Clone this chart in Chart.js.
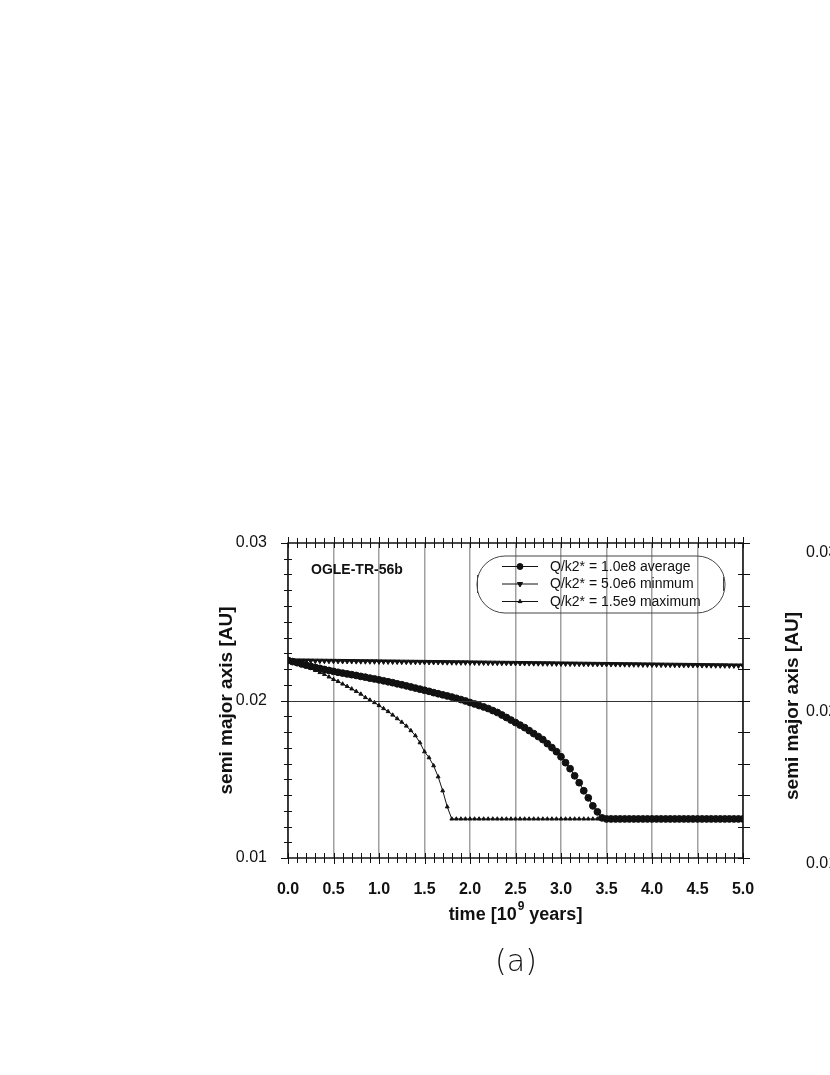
<!DOCTYPE html>
<html>
<head>
<meta charset="utf-8">
<title>OGLE-TR-56b semi major axis</title>
<script src="https://cdn.jsdelivr.net/npm/chart.js@4/dist/chart.umd.min.js"></script>
<style>
html, body { margin: 0; padding: 0; background: #fff; overflow: hidden; }
#wrap { position: relative; width: 830px; height: 1075px; }
#wrap canvas { position: absolute; left: 0; top: 0; }
.caption { position: absolute; left: 516px; top: 960px; transform: translate(-50%, -50%);
  font-family: 'DejaVu Sans', sans-serif; font-weight: 200; font-size: 30px; color: #111; }
.ghost { position: absolute; font-family: 'Liberation Sans', Arial, sans-serif; font-size: 16px; color: #111; white-space: nowrap; }
.ghost-title { position: absolute; left: 792px; top: 706px; transform: translate(-50%, -50%) rotate(-90deg);
  font-family: 'Liberation Sans', Arial, sans-serif; font-weight: bold; font-size: 19px; color: #111; white-space: nowrap; }
</style>
</head>
<body>
<div id="wrap">
    <canvas id="orbitChart"></canvas>
    <div class="caption">(a)</div>
    <!-- borde del siguiente panel, cortado -->
    <div class="ghost" style="left:806px; top:543px;">0.03</div>
    <div class="ghost" style="left:806px; top:702px;">0.02</div>
    <div class="ghost" style="left:806px; top:854px;">0.01</div>
    <div class="ghost-title">semi major axis [AU]</div>
</div>
<script>
// Tiempo en 10^9 años
const timeGyr = [
    0.00, 0.05, 0.10, 0.15, 0.20, 0.25, 0.30, 0.35, 0.40, 0.45,
    0.50, 0.55, 0.60, 0.65, 0.70, 0.75, 0.80, 0.85, 0.90, 0.95,
    1.00, 1.05, 1.10, 1.15, 1.20, 1.25, 1.30, 1.35, 1.40, 1.45,
    1.50, 1.55, 1.60, 1.65, 1.70, 1.75, 1.80, 1.85, 1.90, 1.95,
    2.00, 2.05, 2.10, 2.15, 2.20, 2.25, 2.30, 2.35, 2.40, 2.45,
    2.50, 2.55, 2.60, 2.65, 2.70, 2.75, 2.80, 2.85, 2.90, 2.95,
    3.00, 3.05, 3.10, 3.15, 3.20, 3.25, 3.30, 3.35, 3.40, 3.45,
    3.50, 3.55, 3.60, 3.65, 3.70, 3.75, 3.80, 3.85, 3.90, 3.95,
    4.00, 4.05, 4.10, 4.15, 4.20, 4.25, 4.30, 4.35, 4.40, 4.45,
    4.50, 4.55, 4.60, 4.65, 4.70, 4.75, 4.80, 4.85, 4.90, 4.95,
    5.00
];

// Q/k2* = 1.0e8 (average) - círculos
const axisAverage = [
    0.02255, 0.02247, 0.02240, 0.02232, 0.02224, 0.02217, 0.02210, 0.02204, 0.02197, 0.02191,
    0.02185, 0.02179, 0.02174, 0.02169, 0.02164, 0.02159, 0.02153, 0.02148, 0.02142, 0.02137,
    0.02131, 0.02125, 0.02119, 0.02113, 0.02106, 0.02100, 0.02093, 0.02086, 0.02079, 0.02072,
    0.02065, 0.02058, 0.02050, 0.02043, 0.02036, 0.02029, 0.02022, 0.02014, 0.02006, 0.01997,
    0.01987, 0.01978, 0.01968, 0.01959, 0.01949, 0.01936, 0.01924, 0.01908, 0.01892, 0.01876,
    0.01860, 0.01844, 0.01828, 0.01809, 0.01790, 0.01771, 0.01752, 0.01726, 0.01701, 0.01675,
    0.01643, 0.01605, 0.01567, 0.01522, 0.01478, 0.01427, 0.01382, 0.01331, 0.01293, 0.01255,
    0.01248, 0.01248, 0.01248, 0.01248, 0.01248, 0.01248, 0.01248, 0.01248, 0.01248, 0.01248,
    0.01248, 0.01248, 0.01248, 0.01248, 0.01248, 0.01248, 0.01248, 0.01248, 0.01248, 0.01248,
    0.01248, 0.01248, 0.01248, 0.01248, 0.01248, 0.01248, 0.01248, 0.01248, 0.01248, 0.01248,
    0.01248
];

// Q/k2* = 5.0e6 (minmum) - triángulos hacia abajo
const axisMinimum = [
    0.022550, 0.022547, 0.022543, 0.022540, 0.022537, 0.022534, 0.022530, 0.022527, 0.022524, 0.022520,
    0.022517, 0.022514, 0.022510, 0.022507, 0.022504, 0.022500, 0.022497, 0.022494, 0.022490, 0.022487,
    0.022484, 0.022480, 0.022477, 0.022474, 0.022470, 0.022467, 0.022464, 0.022460, 0.022457, 0.022454,
    0.022451, 0.022447, 0.022444, 0.022441, 0.022437, 0.022434, 0.022431, 0.022427, 0.022424, 0.022421,
    0.022418, 0.022414, 0.022411, 0.022408, 0.022404, 0.022401, 0.022398, 0.022394, 0.022391, 0.022388,
    0.022385, 0.022381, 0.022378, 0.022375, 0.022371, 0.022368, 0.022365, 0.022361, 0.022358, 0.022355,
    0.022352, 0.022348, 0.022345, 0.022342, 0.022338, 0.022335, 0.022332, 0.022328, 0.022325, 0.022322,
    0.022319, 0.022315, 0.022312, 0.022309, 0.022305, 0.022302, 0.022299, 0.022295, 0.022292, 0.022289,
    0.022286, 0.022282, 0.022279, 0.022276, 0.022272, 0.022269, 0.022266, 0.022262, 0.022259, 0.022256,
    0.022253, 0.022249, 0.022246, 0.022243, 0.022239, 0.022236, 0.022233, 0.022229, 0.022226, 0.022223,
    0.022220
];

// Q/k2* = 1.5e9 (maximum) - triángulos pequeños
const axisMaximum = [
    0.02255, 0.02245, 0.02236, 0.02226, 0.02217, 0.02204, 0.02191, 0.02178, 0.02166, 0.02150,
    0.02134, 0.02121, 0.02105, 0.02090, 0.02074, 0.02058, 0.02041, 0.02019, 0.02003, 0.01987,
    0.01968, 0.01949, 0.01930, 0.01908, 0.01885, 0.01863, 0.01838, 0.01809, 0.01777, 0.01732,
    0.01675, 0.01637, 0.01586, 0.01516, 0.01427, 0.01325, 0.01248, 0.01248, 0.01248, 0.01248,
    0.01248, 0.01248, 0.01248, 0.01248, 0.01248, 0.01248, 0.01248, 0.01248, 0.01248, 0.01248,
    0.01248, 0.01248, 0.01248, 0.01248, 0.01248, 0.01248, 0.01248, 0.01248, 0.01248, 0.01248,
    0.01248, 0.01248, 0.01248, 0.01248, 0.01248, 0.01248, 0.01248, 0.01248, 0.01248, 0.01248,
    0.01248, 0.01248, 0.01248, 0.01248, 0.01248, 0.01248, 0.01248, 0.01248, 0.01248, 0.01248,
    0.01248, 0.01248, 0.01248, 0.01248, 0.01248, 0.01248, 0.01248, 0.01248, 0.01248, 0.01248,
    0.01248, 0.01248, 0.01248, 0.01248, 0.01248, 0.01248, 0.01248, 0.01248, 0.01248, 0.01248,
    0.01248
];

const seriesLabels = ['Q/k2* = 1.0e8 average', 'Q/k2* = 5.0e6 minmum', 'Q/k2* = 1.5e9 maximum'];
const planetName = 'OGLE-TR-56b';

const FONT = "'Liberation Sans', Arial, sans-serif";
Chart.defaults.font.family = FONT;
Chart.defaults.color = '#111';

function toPoints(values) {
    return values.map((v, i) => ({ x: timeGyr[i], y: v }));
}

// Marco, marcas menores y línea de 0.02
const frameTicks = {
    id: 'frameTicks',
    afterDatasetsDraw(chart) {
        const { ctx, chartArea: a, scales: { x, y } } = chart;
        ctx.save();
        ctx.lineWidth = 1;

        // línea horizontal en 0.02
        const y02 = Math.round(y.getPixelForValue(0.02)) + 0.5;
        ctx.strokeStyle = '#333';
        ctx.beginPath();
        ctx.moveTo(a.left - 7, y02);
        ctx.lineTo(a.right + 7, y02);
        ctx.stroke();

        ctx.strokeStyle = '#111';
        ctx.beginPath();
        // eje Y: cada 0.001 a la izquierda, cada 0.002 a la derecha
        for (let k = 10; k <= 30; k++) {
            const py = Math.round(y.getPixelForValue(k / 1000)) + 0.5;
            if (k % 10 === 0) {
                ctx.moveTo(a.left - 7, py); ctx.lineTo(a.left, py);
            } else {
                ctx.moveTo(a.left - 4, py); ctx.lineTo(a.left + 4, py);
            }
            if (k % 2 === 0) {
                ctx.moveTo(a.right - 5, py); ctx.lineTo(a.right + 7, py);
            }
        }
        // eje X: cada 0.1 arriba y abajo
        for (let j = 0; j <= 50; j++) {
            const px = Math.round(x.getPixelForValue(j / 10)) + 0.5;
            const big = j % 5 === 0 ? 6 : 5;
            ctx.moveTo(px, a.bottom - 5); ctx.lineTo(px, a.bottom + big);
            ctx.moveTo(px, a.top - big); ctx.lineTo(px, a.top + 5);
        }
        ctx.stroke();

        // marco
        ctx.lineWidth = 1.5;
        ctx.strokeRect(a.left, a.top, a.right - a.left, a.bottom - a.top);
        ctx.restore();
    },
    afterDraw(chart) {
        const { ctx, chartArea: a } = chart;
        ctx.save();
        ctx.fillStyle = '#111';

        // nombre del planeta
        ctx.font = 'bold 14px ' + FONT;
        ctx.textBaseline = 'middle';
        ctx.textAlign = 'left';
        ctx.fillText(planetName, a.left + 23, a.top + 27);

        // título eje X con superíndice
        const midX = (a.left + a.right) / 2;
        const ty = a.bottom + 57;
        const partA = 'time [10', sup = '9', partB = ' years]';
        ctx.font = 'bold 18px ' + FONT;
        const wA = ctx.measureText(partA).width;
        const wB = ctx.measureText(partB).width;
        ctx.font = 'bold 12px ' + FONT;
        const wS = ctx.measureText(sup).width + 1;
        let cx = midX - (wA + wS + wB) / 2;
        ctx.font = 'bold 18px ' + FONT;
        ctx.fillText(partA, cx, ty);
        ctx.font = 'bold 12px ' + FONT;
        ctx.fillText(sup, cx + wA + 1, ty - 8);
        ctx.font = 'bold 18px ' + FONT;
        ctx.fillText(partB, cx + wA + wS, ty);

        // leyenda en caja redondeada
        const lx = a.left + 189, ly = a.top + 13, lw = 248, lh = 57;
        ctx.strokeStyle = '#444';
        ctx.lineWidth = 1;
        ctx.beginPath();
        ctx.roundRect(lx, ly, lw, lh, 28);
        ctx.stroke();
        ctx.beginPath();
        ctx.moveTo(lx + 0.5, ly + 19); ctx.lineTo(lx + 0.5, ly + 37);
        ctx.moveTo(lx + lw - 1.5, ly + 21); ctx.lineTo(lx + lw - 1.5, ly + 35);
        ctx.stroke();

        ctx.font = '14px ' + FONT;
        chart.data.datasets.forEach((ds, i) => {
            const rowY = ly + 10 + i * 17.5;
            ctx.strokeStyle = '#111';
            ctx.lineWidth = 1;
            ctx.beginPath();
            ctx.moveTo(lx + 25, rowY + 0.5);
            ctx.lineTo(lx + 61, rowY + 0.5);
            ctx.stroke();
            ctx.fillStyle = '#111';
            Chart.helpers.drawPoint(ctx, {
                pointStyle: ds.pointStyle,
                rotation: ds.pointRotation || 0,
                radius: Math.min(ds.pointRadius, 3),
                borderWidth: 1
            }, lx + 43, rowY + 0.5);
            ctx.fillText(ds.label, lx + 73, rowY + 1);
        });
        ctx.restore();
    }
};

const ctx = document.getElementById('orbitChart').getContext('2d');
new Chart(ctx, {
    type: 'line',
    data: {
        datasets: [
            {
                label: seriesLabels[0],
                data: toPoints(axisAverage),
                borderColor: '#111',
                backgroundColor: '#111',
                borderWidth: 1,
                pointStyle: 'circle',
                pointRadius: 3.4,
                pointBackgroundColor: '#111',
                pointBorderColor: '#111',
                fill: false,
                tension: 0
            },
            {
                label: seriesLabels[1],
                data: toPoints(axisMinimum),
                borderColor: '#111',
                backgroundColor: '#111',
                borderWidth: 1,
                pointStyle: 'triangle',
                pointRotation: 180,
                pointRadius: 3,
                pointBackgroundColor: '#111',
                pointBorderColor: '#111',
                fill: false,
                tension: 0
            },
            {
                label: seriesLabels[2],
                data: toPoints(axisMaximum),
                borderColor: '#111',
                backgroundColor: '#111',
                borderWidth: 1,
                pointStyle: 'triangle',
                pointRadius: 2.2,
                pointBackgroundColor: '#111',
                pointBorderColor: '#111',
                fill: false,
                tension: 0
            }
        ]
    },
    options: {
        responsive: true,
        maintainAspectRatio: false,
        animation: false,
        events: [],
        layout: {
            padding: { left: 210, right: 87, top: 543, bottom: 157 }
        },
        plugins: {
            legend: { display: false },
            tooltip: { enabled: false }
        },
        scales: {
            x: {
                type: 'linear',
                min: 0,
                max: 5,
                afterFit: (scale) => { scale.height = 60; },
                border: { display: false },
                grid: { color: '#a0a0a0', lineWidth: 1.5, drawTicks: false },
                ticks: {
                    stepSize: 0.5,
                    padding: 22,
                    font: { size: 16, weight: 'bold' },
                    callback: (value) => value.toFixed(1)
                }
            },
            y: {
                type: 'linear',
                min: 0.01,
                max: 0.03,
                afterFit: (scale) => { scale.width = 78; },
                border: { display: false },
                grid: { display: false, drawTicks: false },
                ticks: {
                    stepSize: 0.01,
                    padding: 21,
                    font: { size: 16 },
                    callback: (value) => value.toFixed(2)
                },
                title: {
                    display: true,
                    text: 'semi major axis [AU]',
                    font: { size: 19, weight: 'bold' },
                    padding: { top: 5, bottom: 0 }
                }
            }
        }
    },
    plugins: [frameTicks]
});
</script>
</body>
</html>
